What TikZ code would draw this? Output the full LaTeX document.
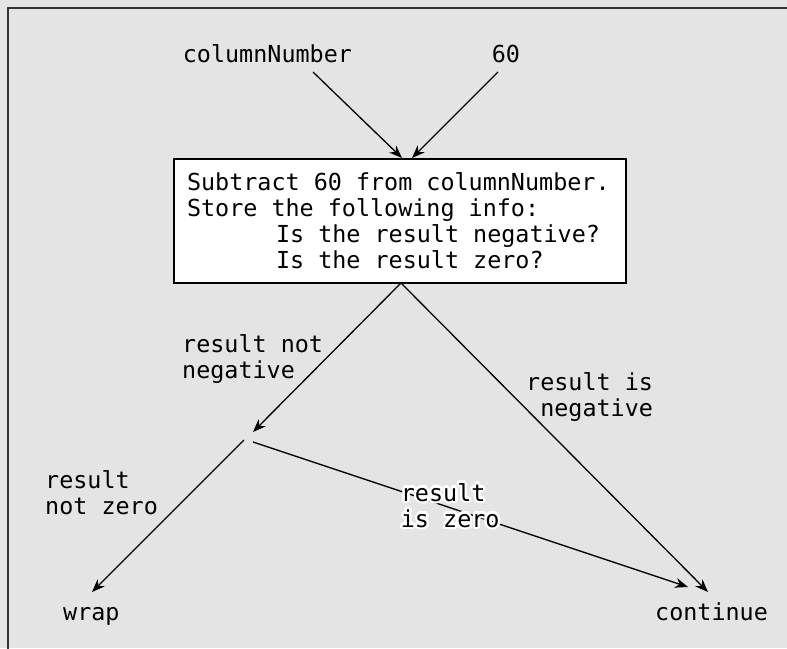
\documentclass[tikz,border=0pt]{standalone}
\usepackage{fontspec}
\setmonofont{DejaVu Sans Mono}
\usetikzlibrary{arrows.meta}
\definecolor{bg}{HTML}{E4E4E4}
\definecolor{framec}{HTML}{333333}
\begin{document}
\begin{tikzpicture}[x=1pt,y=-1pt,
  txt/.style={font=\ttfamily\fontsize{23.4}{26}\selectfont, inner sep=0pt, align=left},
  lbl/.style={txt, anchor=north west},
  endlbl/.style={font=\ttfamily\fontsize{23.4}{26}\selectfont, inner sep=0pt, anchor=base west},
  arr/.style={line width=1.3pt, -{Stealth[length=13pt,width=10pt]}},
  calcbox/.style={txt, draw, fill=white, line width=1.5pt, inner xsep=13pt, inner ysep=0pt,
    text width=426pt, minimum height=124pt}]
\fill[bg] (0,0) rectangle (787,648);
\useasboundingbox (0,0) rectangle (787,648);
\draw[framec, line width=1.8pt] (8,649) -- (8,8) -- (788,8);

% inputs
\node[txt, anchor=base west] (cn) at (182.7,62) {columnNumber};
\node[txt, anchor=base west] (sixty) at (491.7,62) {60};
\coordinate (cnout) at (313,72);
\coordinate (sixout) at (498,72);

% box
\node[calcbox] (calc) at (400,221) {\spaceskip=0pt\xspaceskip=0pt
Subtract 60 from columnNumber.\\
Store the following info:\\
\hspace*{89pt}Is the result negative?\\
\hspace*{89pt}Is the result zero?};
\coordinate (inA) at (402,158);
\coordinate (inB) at (412,158);
\coordinate (vtx) at (401,283);

\draw[arr] (cnout) -- (inA);
\draw[arr] (sixout) -- (inB);

% split point
\coordinate (splitin) at (253,432);
\coordinate (splitl) at (244,440);
\coordinate (splitr) at (253,442);

% outputs
\node[endlbl] (wrap) at (63,620) {wrap};
\node[endlbl] (cont) at (655,620) {continue};
\coordinate (wrapin) at (92,592);
\coordinate (contA) at (688,587);
\coordinate (contB) at (708,592);

\draw[arr] (vtx) -- (splitin);
\draw[arr] (vtx) -- (contB);
\draw[arr] (splitl) -- (wrapin);
\draw[arr] (splitr) -- (contA);

% labels
\node[lbl] (lnn) at (182,334) {result not\\negative};
\node[lbl] (lin) at (526,372) {result is\\\phantom{r}negative};
\node[lbl] (lnz) at (45,470) {result\\not zero};
\foreach \a [count=\i] in {0,22.5,...,337.5}
  \node[lbl, text=white] (halo\i) at ([shift={(\a:2.4)}]400.7,483) {result\\is zero};
\node[lbl] (liz) at (400.7,483) {result\\is zero};
\end{tikzpicture}
\end{document}
